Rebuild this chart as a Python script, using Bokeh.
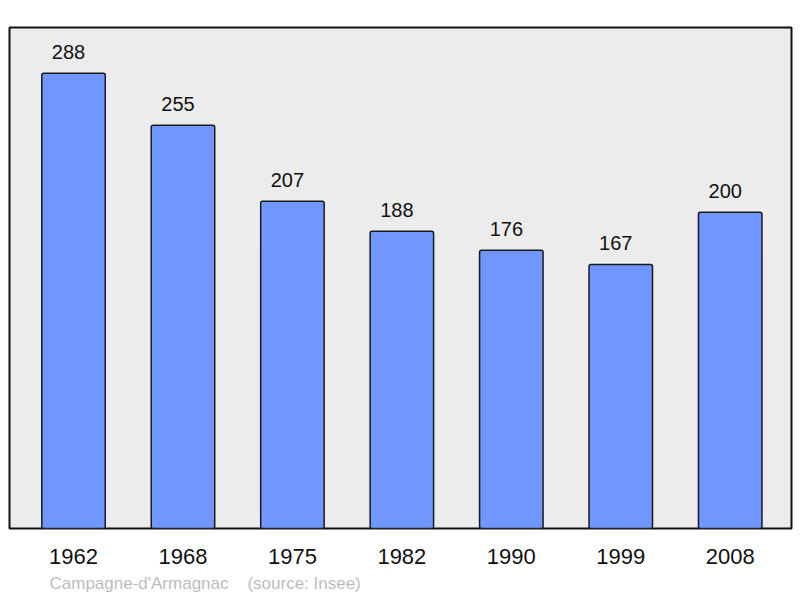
from bokeh.plotting import figure
from bokeh.models import ColumnDataSource, FixedTicker, Range1d, Title
from bokeh.core.properties import value
from bokeh.embed import file_html
from bokeh.resources import INLINE

years = ["1962", "1968", "1975", "1982", "1990", "1999", "2008"]
population = [288, 255, 207, 188, 176, 167, 200]
caption = "Campagne-d'Armagnac\u00a0\u00a0\u00a0\u00a0(source: Insee)"

xs = list(range(len(years)))
src = ColumnDataSource(dict(x=xs, top=population, lab=[str(v) for v in population]))

p = figure(width=800, height=597, output_backend="svg", toolbar_location=None,
           x_range=Range1d(-0.585, 6.56), y_range=Range1d(0, 316.9),
           min_border_left=9, min_border_right=9, min_border_top=27, min_border_bottom=10)
p.background_fill_color = "#ececec"
p.border_fill_color = "white"
p.outline_line_color = "#111111"
p.outline_line_width = 2
p.grid.visible = False
p.yaxis.visible = False

p.vbar(x="x", top="top", width=0.58, bottom=0, source=src,
       fill_color="#7096ff", line_color="#1a1a1a", line_width=1.5, border_radius=2)
p.text(x="x", y="top", text="lab", source=src, text_align="center",
       text_baseline="alphabetic", y_offset=-21, x_offset=-5, text_font_size="20px",
       text_color="#111111", text_font=value("Liberation Sans"))

ax = p.xaxis[0]
ax.ticker = FixedTicker(ticks=xs)
ax.major_label_overrides = {i: y for i, y in enumerate(years)}
ax.axis_line_color = None
ax.major_tick_line_color = None
ax.minor_tick_line_color = None
ax.major_label_text_font_size = "22px"
ax.major_label_text_font = "Liberation Sans"
ax.major_label_text_color = "#111111"
ax.major_label_standoff = 14

t = Title(text=caption, align="left", text_font_size="17px", text_font="Liberation Sans",
          text_color="#bdbdbd", text_font_style="normal", offset=40, standoff=10)
p.add_layout(t, "below")

open("out.html", "w").write(file_html(p, INLINE))
